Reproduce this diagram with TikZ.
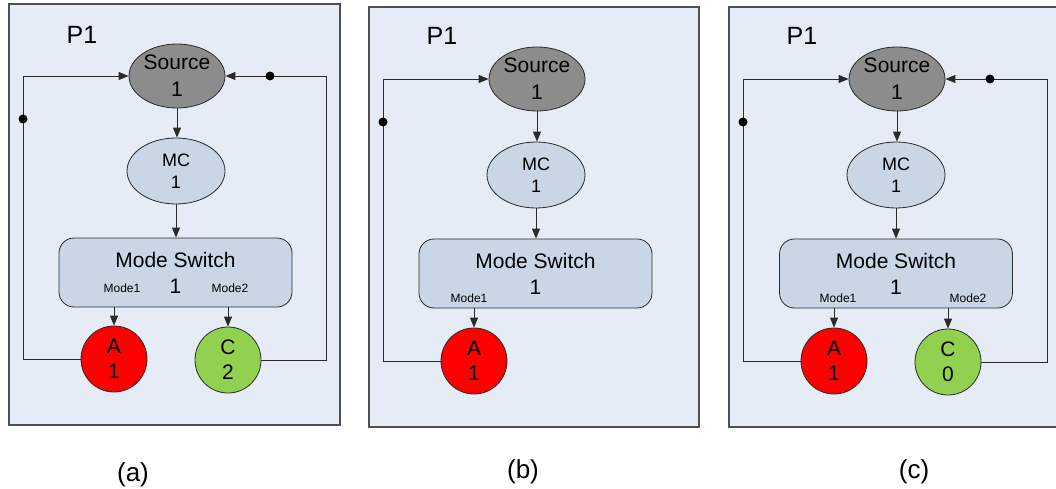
\documentclass[tikz,border=0pt]{standalone}
\usepackage{fontspec}
\setmainfont{Liberation Sans}
\usetikzlibrary{shapes.geometric,arrows.meta}
\definecolor{panelbg}{HTML}{E6ECF6}
\definecolor{bordergray}{HTML}{505050}
\definecolor{srcgray}{HTML}{8C8C8C}
\definecolor{mcblue}{HTML}{C9D6E6}
\definecolor{taskred}{HTML}{FF0000}
\definecolor{taskgreen}{HTML}{92D050}
\definecolor{linegray}{HTML}{2A2A2A}
\tikzset{
  panelbox/.style={draw=bordergray, line width=1.2pt, fill=panelbg},
  ptitle/.style={font=\fontsize{25}{30}\selectfont, inner sep=0pt},
  src/.style={ellipse, draw=linegray, line width=0.8pt, fill=srcgray, minimum width=96pt, minimum height=64pt, inner sep=0pt, align=center, font=\fontsize{21}{27}\selectfont},
  mcnode/.style={ellipse, draw=linegray, line width=0.8pt, fill=mcblue, minimum width=98pt, minimum height=66pt, inner sep=0pt, align=center, font=\fontsize{18}{22}\selectfont},
  msbox/.style={rectangle, rounded corners=15pt, draw=linegray, line width=0.8pt, fill=mcblue, minimum width=233pt, minimum height=69pt, inner sep=0pt, align=center, font=\fontsize{21}{26}\selectfont},
  tasknode/.style={circle, draw=linegray, line width=0.8pt, minimum size=66pt, inner sep=0pt, align=center, font=\fontsize{21}{25}\selectfont},
  modelbl/.style={font=\fontsize{12}{14}\selectfont, inner sep=0pt},
  conn/.style={draw=linegray, line width=0.9pt},
  arr/.style={conn, -{Triangle[length=10pt,width=8pt]}},
  junc/.style={circle, fill=black, inner sep=0pt, minimum size=9pt},
  caption/.style={font=\fontsize{26}{30}\selectfont, inner sep=0pt},
}
\begin{document}
\begin{tikzpicture}[x=1pt, y=-1pt]
\useasboundingbox (0,0) rectangle (1056,489);
\fill[white] (0,0) rectangle (1056,489);

% ---------------- panel (a) ----------------
\begin{scope}[shift={(177,76)}]
  \path[panelbox] (-168,-72) rectangle (163,349);
  \node[ptitle] (aP) at (-95,-41) {P1};
  \node[src] (aS) at (0,0) {Source\\1};
  \node[mcnode] (aM) at (-1,95) {MC\\1};
  \node[msbox] (aW) at (-1.5,196.5) {Mode Switch\\1};
  \node[tasknode, fill=taskred] (aA) at (-63,283) {A\\1};
  \node[tasknode, fill=taskgreen] (aC) at (51,284) {C\\2};
  \node[modelbl] (am1) at (-55,212) {Mode1};
  \node[modelbl] (am2) at (53,212) {Mode2};
  \coordinate (aL) at (-154,0);
  \coordinate (aR) at (149,0);
  \draw[arr] (aS.south) -- (aS.south |- aM.north);
  \draw[arr] (aM.south) -- (aM.south |- aW.north);
  \draw[arr] (aA.north |- aW.south) -- (aA.north);
  \draw[arr] (aC.north |- aW.south) -- (aC.north);
  \draw[arr] (aA.west) -| (aL) -- (aS.west);
  \draw[arr] (aC.east) -| (aR) -- (aS.east);
  \node[junc] (aj1) at (-154,43) {};
  \node[junc] (aj2) at (93,0) {};
\end{scope}

% ---------------- panel (b) ----------------
\begin{scope}[shift={(537,79)}]
  \path[panelbox] (-168,-72) rectangle (162,348);
  \node[ptitle] (bP) at (-95,-43) {P1};
  \node[src] (bS) at (0,0) {Source\\1};
  \node[mcnode] (bM) at (-1,96) {MC\\1};
  \node[msbox] (bW) at (-1.5,194.5) {Mode Switch\\1};
  \node[tasknode, fill=taskred] (bA) at (-63,282) {A\\1};
  \node[modelbl] (bm1) at (-68,219) {Mode1};
  \coordinate (bL) at (-154,0);
  \draw[arr] (bS.south) -- (bS.south |- bM.north);
  \draw[arr] (bM.south) -- (bM.south |- bW.north);
  \draw[arr] (bA.north |- bW.south) -- (bA.north);
  \draw[arr] (bA.west) -| (bL) -- (bS.west);
  \node[junc] (bj1) at (-154,43) {};
\end{scope}

% ---------------- panel (c) ----------------
\begin{scope}[shift={(897,79)}]
  \path[panelbox] (-168,-72) rectangle (164,348);
  \node[ptitle] (cP) at (-95,-43) {P1};
  \node[src] (cS) at (0,0) {Source\\1};
  \node[mcnode] (cM) at (-1,96) {MC\\1};
  \node[msbox] (cW) at (-1,194.5) {Mode Switch\\1};
  \node[tasknode, fill=taskred] (cA) at (-63,282) {A\\1};
  \node[tasknode, fill=taskgreen] (cC) at (51,283) {C\\0};
  \node[modelbl] (cm1) at (-59,219) {Mode1};
  \node[modelbl] (cm2) at (71,219) {Mode2};
  \coordinate (cL) at (-154,0);
  \coordinate (cR) at (150,0);
  \draw[arr] (cS.south) -- (cS.south |- cM.north);
  \draw[arr] (cM.south) -- (cM.south |- cW.north);
  \draw[arr] (cA.north |- cW.south) -- (cA.north);
  \draw[arr] (cC.north |- cW.south) -- (cC.north);
  \draw[arr] (cA.west) -| (cL) -- (cS.west);
  \draw[arr] (cC.east) -| (cR) -- (cS.east);
  \node[junc] (cj1) at (-154,43) {};
  \node[junc] (cj2) at (93,0) {};
\end{scope}

% captions
\node[caption] (capa) at (133,475) {(a)};
\node[caption] (capb) at (523,472) {(b)};
\node[caption] (capc) at (914,472) {(c)};
\end{tikzpicture}
\end{document}
